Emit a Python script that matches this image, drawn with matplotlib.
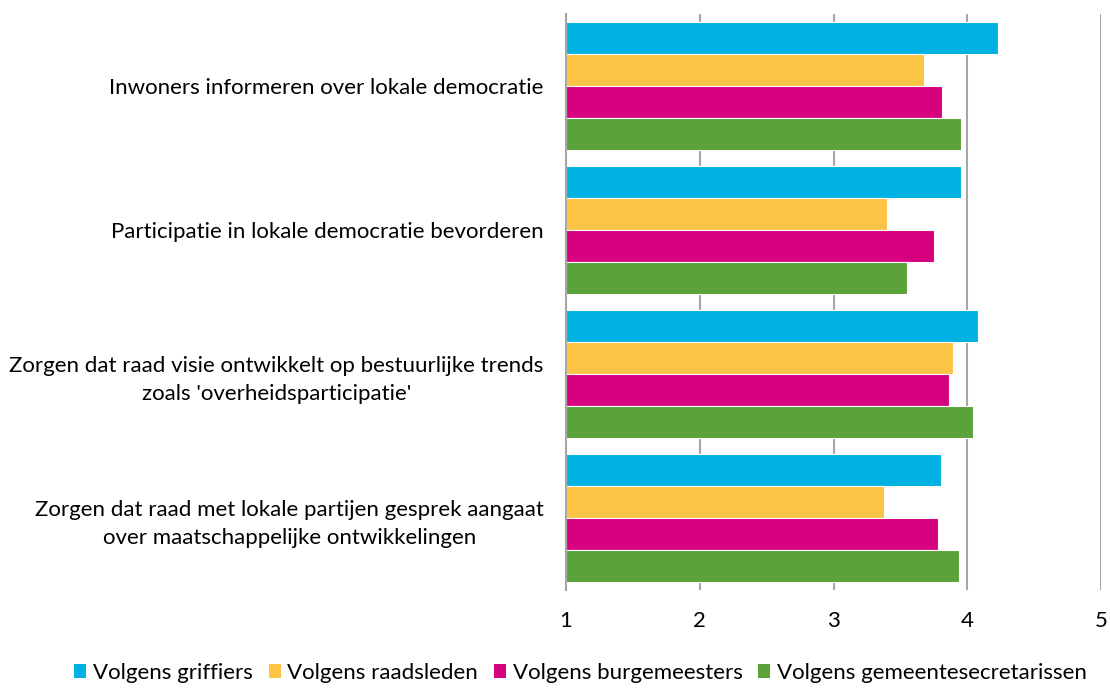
import matplotlib.pyplot as plt
import numpy as np
from matplotlib.patches import Patch

plt.rcParams['font.family'] = ['Lato', 'DejaVu Sans']

categories = [
    "Inwoners informeren over lokale democratie",
    "Participatie in lokale democratie bevorderen",
    "Zorgen dat raad visie ontwikkelt op bestuurlijke trends\nzoals 'overheidsparticipatie'",
    "Zorgen dat raad met lokale partijen gesprek aangaat\nover maatschappelijke ontwikkelingen",
]
series = ["Volgens griffiers", "Volgens raadsleden", "Volgens burgemeesters",
          "Volgens gemeentesecretarissen"]
griffiers = [4.23, 3.95, 4.08, 3.80]
raadsleden = [3.68, 3.40, 3.89, 3.38]
burgemeesters = [3.81, 3.75, 3.86, 3.78]
secretarissen = [3.95, 3.55, 4.04, 3.94]
colors = ['#00B2E3', '#FCC445', '#D7007F', '#5AA23A']

values = [griffiers, raadsleden, burgemeesters, secretarissen]

fig = plt.figure(figsize=(11.1, 6.89), dpi=100)
ax = fig.add_axes([566 / 1110, 1 - 590 / 689, (1101 - 566) / 1110, (590 - 14) / 689])

y = np.arange(len(categories))
h = 0.222
for i, (vals, c) in enumerate(zip(values, colors)):
    ax.barh(y + (i - 1.5) * h, np.array(vals) - 1, left=1, height=h,
            color=c, edgecolor='white', linewidth=0.8, zorder=3)

ax.set_xlim(1, 5)
ax.set_ylim(len(categories) - 0.5, -0.5)
ax.set_xticks([1, 2, 3, 4, 5])
ax.set_xticklabels(['1', '2', '3', '4', '5'], fontsize=16)
ax.tick_params(axis='x', length=0, pad=15)
ax.set_yticks(y)
ax.set_yticklabels(categories, fontsize=16, multialignment='center', linespacing=1.5)
ax.tick_params(axis='y', length=0, pad=16)
ax.grid(axis='x', color='#A6A6A6', linewidth=1.5, zorder=0)
for s in ['top', 'right', 'bottom']:
    ax.spines[s].set_visible(False)
ax.spines['left'].set_color('#A6A6A6')
ax.spines['left'].set_linewidth(1.5)
ax.spines['left'].set_zorder(4)

handles = [Patch(facecolor=c, edgecolor='none') for c in colors]
fig.legend(handles, series, loc='lower center', bbox_to_anchor=(0.523, -0.02),
           ncol=4, frameon=False, fontsize=16, handlelength=0.55,
           handleheight=0.55, handletextpad=0.3, columnspacing=0.7)

fig.savefig('out.png', dpi=100)
